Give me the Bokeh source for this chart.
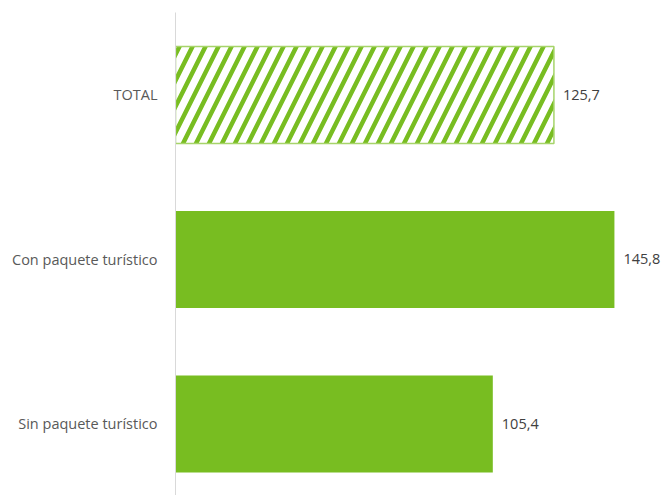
from bokeh.plotting import figure
from bokeh.models import ColumnDataSource, Range1d, FixedTicker, LabelSet
from bokeh.core.properties import value
from bokeh.embed import file_html
from bokeh.resources import INLINE

categories = ["TOTAL", "Con paquete turístico", "Sin paquete turístico"]
values = [125.7, 145.8, 105.4]
value_labels = ["125,7", "145,8", "105,4"]

ypos = [2, 1, 0]
GREEN = "#78bd21"

src = ColumnDataSource(dict(y=ypos, v=values, lab=value_labels, cat=categories))
total_src = ColumnDataSource(dict(y=ypos[:1], v=values[:1]))
rest_src = ColumnDataSource(dict(y=ypos[1:], v=values[1:]))

p = figure(width=663, height=495, output_backend="svg", toolbar_location=None,
           x_range=Range1d(0, 162.1), y_range=Range1d(-0.435, 2.5015),
           min_border_left=175, min_border_right=0, min_border_top=12, min_border_bottom=0)
p.outline_line_color = None
p.grid.visible = False
p.xaxis.visible = False

p.hbar(y="y", right="v", left=0, height=0.59, source=rest_src,
       fill_color=GREEN, line_color=None)
p.hbar(y="y", right="v", left=0, height=0.59, source=total_src,
       fill_color="white", line_color="#a6d46a", line_width=1.5,
       hatch_pattern="right_diagonal_line", hatch_color=GREEN,
       hatch_weight=4.5, hatch_scale=26)

labels = LabelSet(x="v", y="y", text="lab", source=src, x_offset=9, y_offset=0,
                  text_baseline="middle", text_font=value("Open Sans"),
                  text_font_size="14.5px", text_color="#404040")
p.add_layout(labels)

ax = p.yaxis[0]
ax.ticker = FixedTicker(ticks=ypos)
ax.major_label_overrides = {y: c for y, c in zip(ypos, categories)}
ax.major_tick_line_color = None
ax.minor_tick_line_color = None
ax.axis_line_color = "#d9d9d9"
ax.axis_line_width = 1
ax.major_label_standoff = 12
ax.major_label_text_font = "Open Sans"
ax.major_label_text_font_size = "14.5px"
ax.major_label_text_color = "#595959"

open("out.html", "w").write(file_html(p, INLINE))
